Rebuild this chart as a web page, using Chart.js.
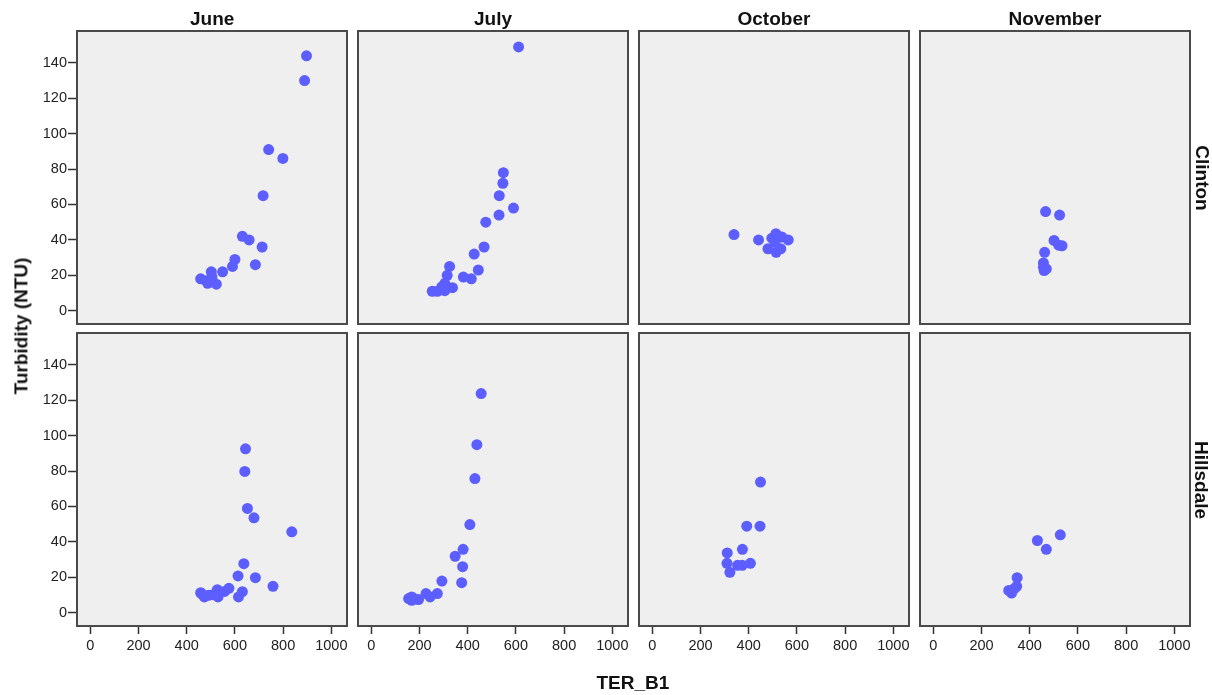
<!DOCTYPE html>
<html>
<head>
<meta charset="utf-8">
<script src="https://cdn.jsdelivr.net/npm/chart.js@4/dist/chart.umd.min.js"></script>
<style>
	html, body { margin: 0; padding: 0; background: #fff; }
	body { width: 1212px; height: 695px; position: relative; overflow: hidden; font-family: 'Liberation Sans', Arial, sans-serif; }
	canvas { position: absolute; }
	.lbl { position: absolute; font-weight: bold; font-size: 19px; color: #111; white-space: nowrap; }
</style>
</head>
<body>
<script>
// months (columns) and sites (rows)
const months = ['June', 'July', 'October', 'November'];
const sites = ['Clinton', 'Hillsdale'];
const xTicks = [0, 200, 400, 600, 800, 1000];
const yTicks = [0, 20, 40, 60, 80, 100, 120, 140];

// TER_B1 values
const clintonJuneX = [897, 889, 740, 799, 717, 631, 659, 713, 685, 600, 590, 549, 502, 458, 481, 487, 505, 523];
const clintonJuneY = [144, 130, 91, 86, 65, 42, 40, 36, 26, 29, 25, 22, 22, 18, 17, 15.5, 19, 15];
const clintonJulyX = [611, 548, 546, 531, 590, 530, 475, 468, 427, 444, 382, 415, 325, 315, 305, 337, 293, 253, 274, 305];
const clintonJulyY = [149, 78, 72, 65, 58, 54, 50, 36, 32, 23, 19, 18, 25, 20, 15.5, 13, 13.6, 11, 11, 11.3];
const clintonOctX = [339, 441, 496, 513, 538, 564, 480, 514, 533, 509];
const clintonOctY = [43, 40, 41, 43.5, 41.6, 40, 35, 33, 35, 38.8];
const clintonNovX = [466, 524, 501, 520, 534, 462, 457, 457, 469, 460];
const clintonNovY = [56, 54, 39.7, 37, 36.7, 33, 27, 24.6, 23.6, 22.7];

const hillsJuneX = [644, 641, 652, 679, 836, 637, 613, 685, 758, 575, 557, 527, 631, 615, 461, 473, 509, 530, 491, 458];
const hillsJuneY = [92.6, 79.8, 58.9, 53.6, 45.7, 27.7, 20.8, 19.8, 14.9, 13.8, 12, 13, 11.9, 8.9, 10.8, 8.9, 10.2, 8.9, 9.8, 11.3];
const hillsJulyX = [456, 438, 430, 409, 381, 348, 379, 375, 293, 274, 244, 227, 196, 168, 168, 179, 155];
const hillsJulyY = [123.8, 94.9, 75.8, 49.8, 35.8, 31.9, 26, 17, 17.9, 10.8, 8.9, 10.8, 7.4, 8.9, 7, 7.9, 8];
const hillsOctX = [449, 392, 447, 374, 311, 310, 322, 354, 373, 407];
const hillsOctY = [73.8, 48.9, 48.9, 35.8, 33.8, 27.9, 22.8, 26.8, 26.8, 27.9];
const hillsNovX = [527, 432, 469, 348, 346, 313, 325, 336];
const hillsNovY = [44, 40.8, 35.8, 19.8, 14.9, 12.6, 11.1, 13.6];

const panelX = [
	[clintonJuneX, clintonJulyX, clintonOctX, clintonNovX],
	[hillsJuneX, hillsJulyX, hillsOctX, hillsNovX]
];
const panelY = [
	[clintonJuneY, clintonJulyY, clintonOctY, clintonNovY],
	[hillsJuneY, hillsJulyY, hillsOctY, hillsNovY]
];

// layout
const colLeft = [77, 358, 639, 920];
const rowTop = [31, 333];
const plotW = 270;
const plotH = 293;
const axisW = 50;
const axisH = 36;
const pad = 24;

const panelFrame = {
	id: 'panelFrame',
	beforeDatasetsDraw(chart) {
		const { ctx, chartArea: a } = chart;
		ctx.save();
		ctx.fillStyle = '#efefef';
		ctx.fillRect(a.left, a.top, a.width, a.height);
		ctx.restore();
	},
	afterDatasetsDraw(chart) {
		const { ctx, chartArea: a } = chart;
		ctx.save();
		ctx.strokeStyle = '#4a4a4a';
		ctx.lineWidth = 2;
		ctx.strokeRect(a.left, a.top, a.width, a.height);
		ctx.restore();
	}
};

function toPoints(xs, ys) {
	return xs.map((x, i) => ({ x: x, y: ys[i] }));
}

function makePanel(r, c) {
	const canvas = document.createElement('canvas');
	const w = axisW + plotW + pad;
	const h = pad + plotH + axisH;
	canvas.width = w;
	canvas.height = h;
	canvas.style.left = (colLeft[c] - axisW) + 'px';
	canvas.style.top = (rowTop[r] - pad) + 'px';
	canvas.style.width = w + 'px';
	canvas.style.height = h + 'px';
	document.body.appendChild(canvas);

	const showY = c === 0;
	const showX = r === 1;

	new Chart(canvas.getContext('2d'), {
		type: 'scatter',
		data: {
			datasets: [{
				data: toPoints(panelX[r][c], panelY[r][c]),
				backgroundColor: '#5c5eff',
				borderWidth: 0,
				pointRadius: 5.5,
				pointHoverRadius: 5.5
			}]
		},
		options: {
			responsive: false,
			animation: false,
			layout: { padding: { top: pad, right: pad, left: 0, bottom: 0 } },
			plugins: { legend: { display: false }, tooltip: { enabled: false } },
			scales: {
				x: {
					min: -55,
					max: 1065,
					afterBuildTicks: (s) => { s.ticks = xTicks.map((v) => ({ value: v })); },
					afterFit: (s) => { s.height = axisH; },
					grid: { display: showX, drawOnChartArea: false, drawTicks: true, tickLength: 8, tickColor: '#333', tickWidth: 1.5 },
					border: { display: false },
					ticks: { display: showX, padding: 3, color: '#222', font: { family: 'Liberation Sans', size: 14.5 }, maxRotation: 0, callback: (v) => String(v) }
				},
				y: {
					min: -7.5,
					max: 158,
					afterBuildTicks: (s) => { s.ticks = yTicks.map((v) => ({ value: v })); },
					afterFit: (s) => { s.width = axisW; },
					grid: { display: showY, drawOnChartArea: false, drawTicks: true, tickLength: 9, tickColor: '#333', tickWidth: 1.5 },
					border: { display: false },
					ticks: { display: showY, padding: 1, color: '#222', font: { family: 'Liberation Sans', size: 14.5 }, callback: (v) => String(v) }
				}
			}
		},
		plugins: [panelFrame]
	});
}

function addLabel(text, cx, cy, rot) {
	const d = document.createElement('div');
	d.className = 'lbl';
	d.textContent = text;
	document.body.appendChild(d);
	const bw = d.offsetWidth;
	const bh = d.offsetHeight;
	d.style.left = (cx - bw / 2) + 'px';
	d.style.top = (cy - bh / 2) + 'px';
	if (rot) d.style.transform = 'rotate(' + rot + 'deg)';
}

for (let r = 0; r < sites.length; r++) {
	for (let c = 0; c < months.length; c++) {
		makePanel(r, c);
	}
}

months.forEach((m, c) => addLabel(m, colLeft[c] + plotW / 2, 19, 0));
sites.forEach((s, r) => addLabel(s, 1201, rowTop[r] + plotH / 2, 90));
addLabel('Turbidity (NTU)', 21, 326, -90);
addLabel('TER_B1', 633, 683, 0);
</script>
</body>
</html>
